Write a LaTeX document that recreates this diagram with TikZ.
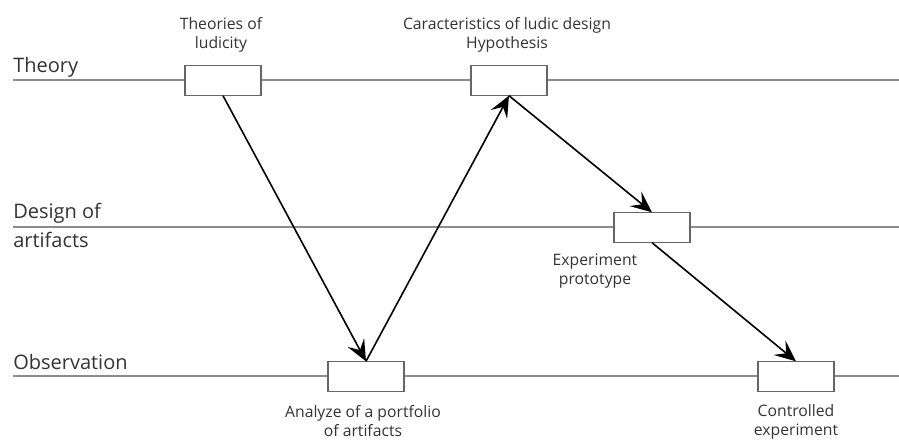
\documentclass[tikz,border=0pt]{standalone}
\usepackage{fontspec}
\setmainfont{Open Sans}
\usetikzlibrary{arrows.meta}
\definecolor{rule}{gray}{0.55}
\definecolor{boxline}{gray}{0.4}
\definecolor{txt}{gray}{0.2}
\begin{document}
\begin{tikzpicture}[x=0.75pt,y=-0.75pt,
  stage/.style={draw=boxline,line width=0.8pt,fill=white,minimum width=57pt,minimum height=22pt,inner sep=0pt},
  rowlabel/.style={anchor=base west,inner sep=0pt,text=txt,font=\fontsize{15}{17}\selectfont},
  note/.style={align=center,inner sep=0pt,text=txt,font=\fontsize{11.8}{14.5}\selectfont},
  flow/.style={line width=1.2pt,-{Stealth[length=16pt,width=14pt,inset=6.5pt]}},
  level/.style={draw=rule,line width=1.1pt}]
\useasboundingbox (0,0) rectangle (899,442);
% level lines
\coordinate (t0) at (13,80); \coordinate (t1) at (899,80);
\coordinate (d0) at (13,227); \coordinate (d1) at (899,227);
\coordinate (o0) at (13,376); \coordinate (o1) at (899,376);
\draw[level] (t0) -- (t1);
\draw[level] (d0) -- (d1);
\draw[level] (o0) -- (o1);
% row labels
\node[rowlabel] (lt) at (13,73) {Theory};
\node[rowlabel] (ld1) at (13,219) {Design of};
\node[rowlabel] (ld2) at (13,247) {artifacts};
\node[rowlabel] (lo) at (13,369) {Observation};
% boxes
\node[stage] (b1) at (223,80.5) {};
\node[stage] (b2) at (509,80.5) {};
\node[stage] (d) at (652,227.5) {};
\node[stage] (ob1) at (366,376.5) {};
\node[stage] (ob2) at (796,376.5) {};
% notes
\node[note] (n1) at (221,35) {Theories of\\ludicity};
\node[note] (n2) at (507,35) {Caracteristics of ludic design\\Hypothesis};
\node[note] (n3) at (595,271) {Experiment\\prototype};
\node[note] (n4) at (363,421) {Analyze of a portfolio\\of artifacts};
\node[note] (n5) at (796,422) {Controlled\\experiment};
% arrows
\draw[flow] (b1.south) -- (ob1.north);
\draw[flow] (ob1.north) -- (b2.south);
\draw[flow] (b2.south) -- (d.north);
\draw[flow] (d.south) -- (ob2.north);
\end{tikzpicture}
\end{document}
